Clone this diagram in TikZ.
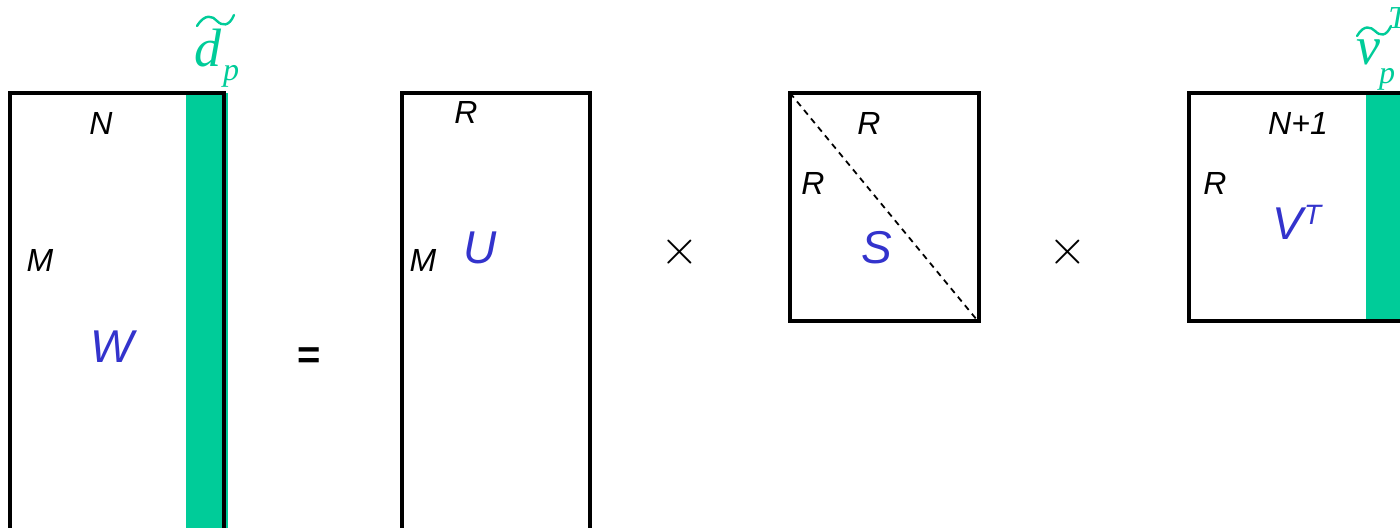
\documentclass[tikz,border=0pt]{standalone}
\usepackage{fontspec}
\setmainfont{Liberation Serif}
\setsansfont{Liberation Sans}
\definecolor{mgreen}{RGB}{0,204,153}
\definecolor{mblue}{RGB}{51,51,204}
\tikzset{
  mbox/.style={draw=black, line width=1.6pt},
  dimlab/.style={font=\sffamily\itshape\fontsize{16}{16}\selectfont, text=black, inner sep=0pt},
  namelab/.style={font=\sffamily\itshape\fontsize{23}{23}\selectfont, text=mblue, inner sep=0pt},
  glab/.style={font=\itshape\fontsize{27}{27}\selectfont, text=mgreen, inner sep=0pt},
  gsub/.style={font=\itshape\fontsize{16}{16}\selectfont, text=mgreen, inner sep=0pt},
  opsym/.style={font=\fontsize{25}{25}\selectfont, inner sep=0pt},
  strip/.style={fill=mgreen, draw=none},
  tildepath/.style={draw=mgreen, line width=1.2pt, line cap=round}
}
\begin{document}
\begin{tikzpicture}[x=0.5pt,y=-0.5pt]
\useasboundingbox (0,0) rectangle (1400,528);
\clip (0,0) rectangle (1400,528);
% W
\fill[strip] (186,93) rectangle (228,560);
\draw[mbox] (10,93) rectangle (224,560);
\node[dimlab] (wn) at (101,123) {N};
\node[dimlab] (wm) at (40,260) {M};
\node[namelab] (w) at (112,347) {W};
\node[glab] (d) at (208,48) {d};
\draw[tildepath] (197,26) .. controls (205,13) and (213,16) .. (217,21) .. controls (222,26) and (229,27) .. (234,15);
\node[gsub] (dp) at (231,76) {p};
% =
\node[font=\sffamily\bfseries\fontsize{20}{20}\selectfont, inner sep=0pt] (eq) at (309,358) {=};
% U
\draw[mbox] (402,93) rectangle (590,560);
\node[dimlab] (ur) at (466,112) {R};
\node[dimlab] (um) at (423,260) {M};
\node[namelab] (u) at (480,248) {U};
% x
\node[opsym] (t1) at (680,252) {$\times$};
% S
\draw[mbox] (790,93) rectangle (979,321);
\draw[dash pattern=on 3pt off 2.5pt, line width=0.9pt] (790,93) -- (977,320);
\node[dimlab] (sr1) at (869,123) {R};
\node[dimlab] (sr2) at (813,183) {R};
\node[namelab] (s) at (877,248) {S};
% x
\node[opsym] (t2) at (1068,252) {$\times$};
% V^T
\fill[strip] (1366,93) rectangle (1420,321);
\draw[mbox] (1189,93) rectangle (1420,321);
\node[dimlab] (vn) at (1298,123) {N+1};
\node[dimlab] (vr) at (1215,183) {R};
\node[namelab, anchor=base west] (v) at (1272,240) {V\kern0.5pt\raisebox{7.5pt}{\fontsize{14}{14}\selectfont T}};
\node[glab] (vt) at (1368,52) {v};
\draw[tildepath] (1357,36) .. controls (1364,24) and (1371,27) .. (1375,31) .. controls (1380,36) and (1386,37) .. (1391,26);
\node[gsub] (vp) at (1387,79) {p};
\node[gsub, anchor=west] (vT) at (1388,18) {T};
\end{tikzpicture}
\end{document}
